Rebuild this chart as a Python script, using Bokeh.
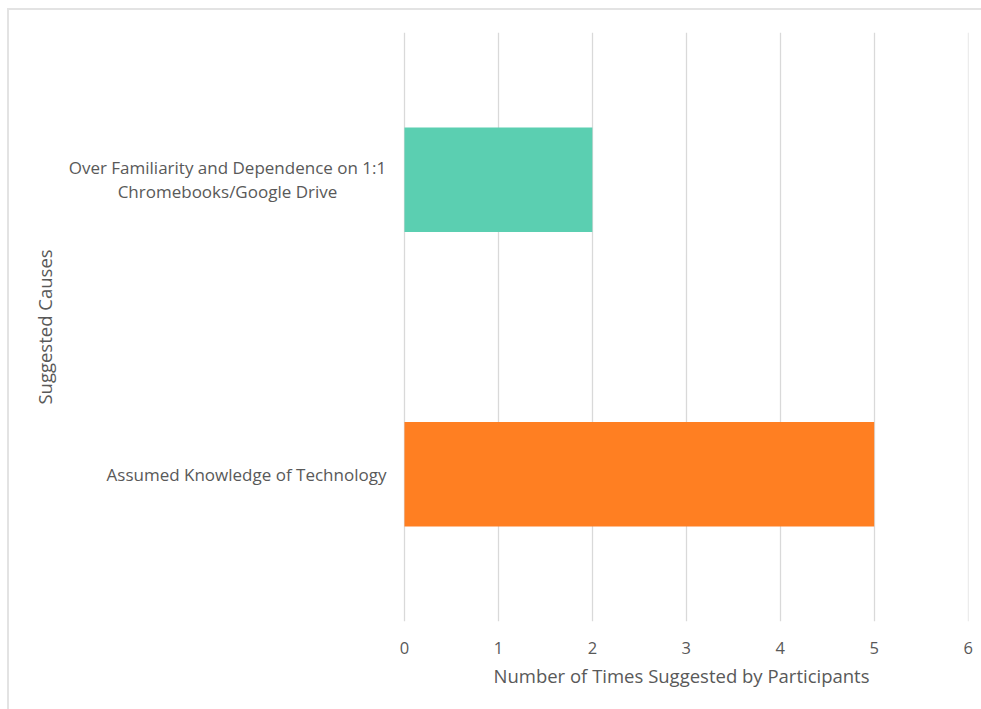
from bokeh.plotting import figure
from bokeh.models import ColumnDataSource, FactorRange, Title
from bokeh.core.properties import value
from bokeh.embed import file_html
from bokeh.resources import INLINE

categories = ["Assumed Knowledge of Technology",
              "Over Familiarity and Dependence on 1:1\nChromebooks/Google Drive"]
counts = [5, 2]
colors = ["#FF7F22", "#5BCFB1"]
x_ticks = [0, 1, 2, 3, 4, 5, 6]
x_title = "Number of Times Suggested by Participants"
y_title = "Suggested Causes"

FONT = "Open Sans"
GREY = "#595959"

src = ColumnDataSource(dict(cat=categories, n=counts, color=colors))

# x range extends left of 0 so that the category labels can be drawn inside the frame
p = figure(width=974, height=701, y_range=FactorRange(*categories), x_range=(-3.64, 6.004),
           output_backend="svg", toolbar_location=None,
           min_border_left=53, min_border_right=15, min_border_top=22, min_border_bottom=90)
p.margin = (8, 0, 0, 7)
p.styles = {"border-left": "2px solid #e3e3e3", "border-top": "2px solid #e3e3e3"}

p.hbar(y="cat", right="n", left=0, height=0.355, color="color", source=src,
       line_color=None)

single = ColumnDataSource(dict(cat=[c for c in categories if "\n" not in c]))
multi = ColumnDataSource(dict(cat=[c for c in categories if "\n" in c]))
p.text(x=0, y="cat", text="cat", source=single, text_align="right", text_baseline="middle",
       x_offset=-18, text_font=value(FONT), text_font_size="17px", text_color=GREY)
p.text(x=0, y="cat", text="cat", source=multi, text_align="center", text_baseline="middle",
       x_offset=-177, text_font=value(FONT), text_font_size="17px", text_color=GREY,
       text_line_height=1.05)

p.outline_line_color = None
p.ygrid.grid_line_color = None
p.xgrid.grid_line_color = "#D9D9D9"
p.xgrid.grid_line_width = 1.3
p.xaxis.ticker = x_ticks
p.xaxis.axis_line_color = None
p.yaxis.axis_line_color = None
p.xaxis.major_tick_line_color = None
p.xaxis.minor_tick_line_color = None
p.yaxis.major_tick_line_color = None
p.yaxis.minor_tick_line_color = None
p.yaxis.major_label_text_font_size = "0px"
p.yaxis.major_label_text_alpha = 0

p.yaxis.axis_label = y_title
p.yaxis.axis_label_text_font = FONT
p.yaxis.axis_label_text_font_size = "18.5px"
p.yaxis.axis_label_text_color = GREY
p.yaxis.axis_label_text_font_style = "normal"
p.yaxis.major_label_standoff = 0
p.yaxis.axis_label_standoff = 0

p.xaxis.major_label_text_font = FONT
p.xaxis.major_label_text_font_size = "16.5px"
p.xaxis.major_label_text_color = GREY
p.xaxis.major_label_standoff = 14

p.add_layout(Title(text=x_title, align="left", offset=431, text_font=FONT,
                   text_font_size="18.5px", text_color=GREY, text_font_style="normal",
                   standoff=8), "below")

open("out.html", "w").write(file_html(p, INLINE))
